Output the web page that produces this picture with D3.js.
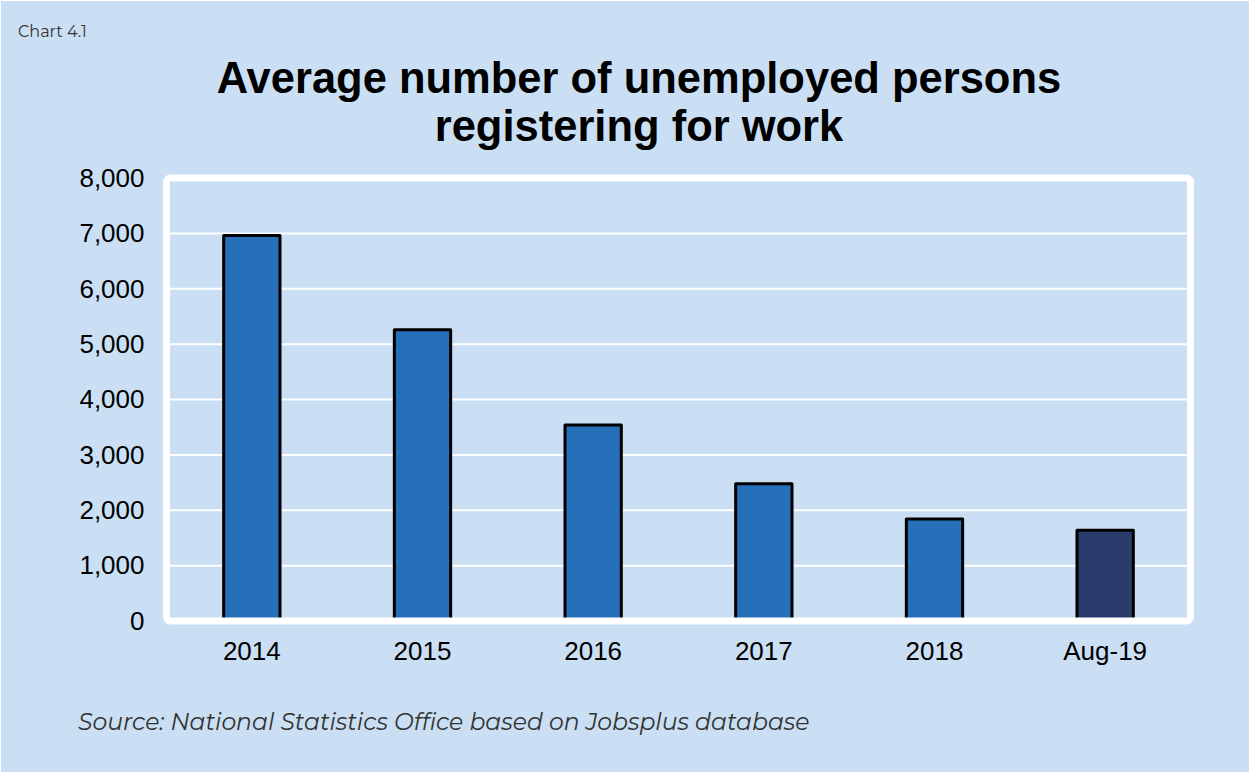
<!DOCTYPE html>
<html>
<head>
<meta charset="utf-8">
<script src="https://cdn.jsdelivr.net/npm/d3@7"></script>
<style>
  body { margin: 0; background: #fff; }
  svg { display: block; }
</style>
</head>
<body>
<svg id="chart"></svg>
<script>
// data
let categories = ["2014", "2015", "2016", "2017", "2018", "Aug-19"];
let values = [6960, 5260, 3540, 2480, 1840, 1640];
let yTicks = [0, 1000, 2000, 3000, 4000, 5000, 6000, 7000, 8000];

let width = 1250, height = 773;
let margin = {top: 178, right: 59.5, bottom: 152, left: 166.5};
let innerW = width - margin.left - margin.right;
let innerH = height - margin.top - margin.bottom;

let svg = d3.select("#chart")
    .attr("width", width)
    .attr("height", height);

// background
svg.append("rect")
    .attr("x", 1).attr("y", 1)
    .attr("width", width - 2).attr("height", height - 2)
    .attr("fill", "#cadff3");

svg.append("text")
    .attr("x", 18).attr("y", 37)
    .attr("font-family", "Montserrat, 'Open Sans', sans-serif")
    .attr("font-size", 16)
    .attr("fill", "#333")
    .text("Chart 4.1");

// title, two lines
let title = svg.append("text")
    .attr("text-anchor", "middle")
    .attr("font-family", "'Liberation Sans', Arial, sans-serif")
    .attr("font-weight", "bold")
    .attr("font-size", 43.5)
    .attr("fill", "#000");
title.append("tspan").attr("x", 639).attr("y", 93).text("Average number of unemployed persons");
title.append("tspan").attr("x", 639).attr("y", 141).text("registering for work");

let x = d3.scaleBand()
    .domain(categories)
    .range([0, innerW])
    .paddingInner(0.67)
    .paddingOuter(0.335);

let y = d3.scaleLinear()
    .domain([0, 8000])
    .range([innerH, 0]);

let g = svg.append("g")
    .attr("transform", "translate(" + margin.left + "," + margin.top + ")");

// gridlines
g.append("g")
    .selectAll("line")
    .data(yTicks)
    .enter().append("line")
    .attr("x1", 0).attr("x2", innerW)
    .attr("y1", function(d) { return y(d); })
    .attr("y2", function(d) { return y(d); })
    .attr("stroke", "#fff")
    .attr("stroke-width", 2);

// bars
g.append("g")
    .selectAll("rect")
    .data(values)
    .enter().append("rect")
    .attr("x", function(d, i) { return x(categories[i]); })
    .attr("y", function(d) { return y(d); })
    .attr("width", x.bandwidth())
    .attr("height", function(d) { return innerH - y(d); })
    .attr("fill", function(d, i) { return i == categories.length - 1 ? "#2a3c6b" : "#2570b8"; })
    .attr("stroke", "#000")
    .attr("stroke-width", 3)
    .attr("stroke-linejoin", "round");

// white frame round the plot area
g.append("rect")
    .attr("x", 0).attr("y", 0)
    .attr("width", innerW).attr("height", innerH)
    .attr("rx", 4)
    .attr("fill", "none")
    .attr("stroke", "#fff")
    .attr("stroke-width", 7);

// y axis labels
let yAxis = g.append("g")
    .attr("transform", "translate(-19,0)")
    .call(d3.axisLeft(y).tickValues(yTicks).tickSize(0).tickFormat(d3.format(",")));
yAxis.select(".domain").remove();
yAxis.selectAll("text")
    .attr("font-family", "'Liberation Sans', Arial, sans-serif")
    .attr("font-size", 26)
    .attr("fill", "#000");

// x axis labels
let xAxis = g.append("g")
    .attr("transform", "translate(0," + (innerH + 18) + ")")
    .call(d3.axisBottom(x).tickSize(0));
xAxis.select(".domain").remove();
xAxis.selectAll("text")
    .attr("font-family", "'Liberation Sans', Arial, sans-serif")
    .attr("font-size", 26)
    .attr("fill", "#000");

svg.append("text")
    .attr("x", 78).attr("y", 730)
    .attr("font-family", "Montserrat, 'Open Sans', sans-serif")
    .attr("font-style", "italic")
    .attr("font-size", 23.5)
    .attr("fill", "#333")
    .text("Source: National Statistics Office based on Jobsplus database");
</script>
</body>
</html>
